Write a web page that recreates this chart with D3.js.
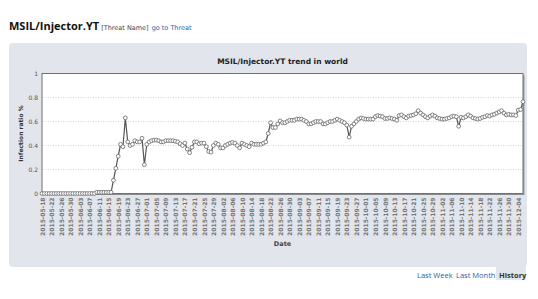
<!DOCTYPE html>
<html>
<head>
<meta charset="utf-8">
<script src="https://cdn.jsdelivr.net/npm/d3@7"></script>
<style>
  body { margin: 0; background: #fff; }
  svg { display: block; }
</style>
</head>
<body>
<div id="chart"></div>
<script>
// threat trend data, one value per day (infection ratio %)
var threatName = "MSIL/Injector.YT";
var chartTitle = "MSIL/Injector.YT trend in world";
var startDate = "2015-05-18";
var endDate = "2015-12-06";
var ratio = [
  0, 0, 0, 0, 0, 0, 0, 0, 0, 0, 0, 0, 0, 0, 0, 0, 0, 0, 0, 0, 0, 0, 0,
  0.01, 0.01, 0.01, 0.01, 0.01, 0.01, 0.01,
  0.11, 0.21, 0.31, 0.41, 0.39, 0.63, 0.43, 0.40, 0.41, 0.44,
  0.43, 0.43, 0.46, 0.24, 0.41, 0.43, 0.44, 0.445, 0.445, 0.44,
  0.43, 0.43, 0.44, 0.44, 0.44, 0.44, 0.435, 0.43, 0.415, 0.40,
  0.42, 0.37, 0.34, 0.385, 0.43, 0.43, 0.415, 0.42, 0.42, 0.39,
  0.35, 0.345, 0.40, 0.42, 0.41, 0.38, 0.38, 0.40, 0.41, 0.42,
  0.425, 0.42, 0.40, 0.38, 0.42, 0.41, 0.40, 0.39, 0.42, 0.41,
  0.41, 0.41, 0.41, 0.42, 0.43, 0.50, 0.59, 0.55, 0.55, 0.58,
  0.605, 0.59, 0.59, 0.60, 0.61, 0.61, 0.61, 0.62, 0.62, 0.62,
  0.61, 0.60, 0.58, 0.58, 0.59, 0.60, 0.60, 0.60, 0.58, 0.58,
  0.59, 0.60, 0.60, 0.61, 0.62, 0.61, 0.60, 0.59, 0.57, 0.47,
  0.56, 0.58, 0.60, 0.62, 0.63, 0.625, 0.62, 0.62, 0.62, 0.62,
  0.64, 0.65, 0.645, 0.64, 0.625, 0.625, 0.63, 0.625, 0.62, 0.61,
  0.65, 0.655, 0.64, 0.63, 0.645, 0.65, 0.655, 0.665, 0.69, 0.67,
  0.655, 0.64, 0.63, 0.645, 0.655, 0.645, 0.63, 0.625, 0.62, 0.62,
  0.625, 0.63, 0.64, 0.645, 0.64, 0.56, 0.635, 0.63, 0.64, 0.655,
  0.645, 0.63, 0.625, 0.62, 0.625, 0.635, 0.64, 0.65, 0.645, 0.655,
  0.66, 0.67, 0.68, 0.69, 0.67, 0.655, 0.66, 0.655, 0.655, 0.65,
  0.695, 0.70, 0.765
];
var yTicks = [0, 0.2, 0.4, 0.6, 0.8, 1];
var rangeButtons = ["Last Week", "Last Month", "History"];

var width = 538, height = 299;
var margin = {top: 73.5, right: 15, bottom: 105.5, left: 42};

var parse = d3.timeParse("%Y-%m-%d");
var fmt = d3.timeFormat("%Y-%m-%d");
var days = d3.timeDay.range(parse(startDate), d3.timeDay.offset(parse(endDate), 1));
var data = days.map(function(d, i) { return {date: d, value: ratio[i]}; });

var svg = d3.select("#chart").append("svg")
  .attr("width", width)
  .attr("height", height);

// page header
var header = svg.append("text")
  .attr("x", 9)
  .attr("y", 30)
  .attr("font-family", "DejaVu Sans, Verdana, sans-serif");
header.append("tspan")
  .attr("font-family", "Open Sans, sans-serif")
  .attr("font-size", 11)
  .attr("font-weight", "bold")
  .attr("fill", "#111")
  .text(threatName);
header.append("tspan")
  .attr("dx", 2)
  .attr("font-size", 6.5)
  .attr("fill", "#444")
  .text("[Threat Name]");
header.append("tspan")
  .attr("dx", 3)
  .attr("font-size", 6.5)
  .attr("fill", "#1f5fa8")
  .text("go to Threat");

// grey chart panel
svg.append("rect")
  .attr("x", 9).attr("y", 43)
  .attr("width", 518).attr("height", 224)
  .attr("rx", 4)
  .attr("fill", "#e2e6ec");

var x = d3.scaleTime()
  .domain([days[0], days[days.length - 1]])
  .range([margin.left, width - margin.right]);

var y = d3.scaleLinear()
  .domain([0, 1])
  .range([height - margin.bottom, margin.top]);

// plot frame with a small shadow
svg.append("rect")
  .attr("x", margin.left + 1.5).attr("y", margin.top + 1.5)
  .attr("width", x.range()[1] - margin.left).attr("height", y(0) - y(1))
  .attr("fill", "#9aa0a8");
svg.append("rect")
  .attr("x", margin.left).attr("y", margin.top)
  .attr("width", x.range()[1] - margin.left).attr("height", y(0) - y(1))
  .attr("fill", "#fff")
  .attr("stroke", "#6e6e6e")
  .attr("stroke-width", 1);

// dotted grid lines
svg.append("g")
  .selectAll("line")
  .data(yTicks.filter(function(t) { return t > 0 && t < 1; }))
  .enter().append("line")
    .attr("x1", margin.left + 1).attr("x2", x.range()[1] - 1)
    .attr("y1", function(d) { return y(d); })
    .attr("y2", function(d) { return y(d); })
    .attr("stroke", "#d4d4d4")
    .attr("stroke-dasharray", "1,1.5");

svg.append("text")
  .attr("x", (margin.left + x.range()[1]) / 2)
  .attr("y", 64)
  .attr("text-anchor", "middle")
  .attr("font-family", "DejaVu Sans, Verdana, sans-serif")
  .attr("font-size", 7.5)
  .attr("font-weight", "bold")
  .attr("fill", "#222")
  .text(chartTitle);

// y axis
var yAxis = svg.append("g")
  .attr("transform", "translate(" + margin.left + ",0)")
  .call(d3.axisLeft(y).tickValues(yTicks).tickSize(0).tickPadding(4)
    .tickFormat(function(d) { return d; }));
yAxis.select(".domain").remove();
yAxis.selectAll("text")
  .attr("font-family", "DejaVu Sans, Verdana, sans-serif")
  .attr("font-size", 6)
  .attr("fill", "#555");

svg.append("text")
  .attr("transform", "translate(21," + ((y(0) + y(1)) / 2) + ") rotate(-90)")
  .attr("text-anchor", "middle")
  .attr("dy", "0.35em")
  .attr("font-family", "DejaVu Sans, Verdana, sans-serif")
  .attr("font-size", 6)
  .attr("font-weight", "bold")
  .attr("fill", "#333")
  .text("Infection ratio %");

// x axis, a label every fourth day
var xAxis = svg.append("g")
  .attr("transform", "translate(0," + y(0) + ")")
  .call(d3.axisBottom(x)
    .tickValues(d3.timeDay.range(days[0], days[days.length - 1], 4))
    .tickSize(0)
    .tickFormat(fmt));
xAxis.select(".domain")
  .attr("stroke", "#777")
  .attr("stroke-width", 1.2);
xAxis.selectAll("text")
  .attr("transform", "rotate(-90)")
  .attr("text-anchor", "end")
  .attr("x", -4)
  .attr("y", 0)
  .attr("dy", "0.35em")
  .attr("font-family", "DejaVu Sans, Verdana, sans-serif")
  .attr("font-size", 6)
  .attr("font-weight", "bold")
  .attr("fill", "#777");

svg.append("text")
  .attr("x", (margin.left + x.range()[1]) / 2)
  .attr("y", 246)
  .attr("text-anchor", "middle")
  .attr("font-family", "DejaVu Sans, Verdana, sans-serif")
  .attr("font-size", 6.5)
  .attr("font-weight", "bold")
  .attr("fill", "#444")
  .text("Date");

// the series
var line = d3.line()
  .x(function(d) { return x(d.date); })
  .y(function(d) { return y(d.value); });

svg.append("path")
  .datum(data)
  .attr("fill", "none")
  .attr("stroke", "#555")
  .attr("stroke-width", 1.2)
  .attr("d", line);

svg.append("g")
  .selectAll("circle")
  .data(data)
  .enter().append("circle")
    .attr("cx", function(d) { return x(d.date); })
    .attr("cy", function(d) { return y(d.value); })
    .attr("r", 1.9)
    .attr("fill", "#fff")
    .attr("stroke", "#666")
    .attr("stroke-width", 0.8);

// range buttons under the panel
svg.append("rect")
  .attr("x", 496).attr("y", 266)
  .attr("width", 30).attr("height", 14)
  .attr("fill", "#e2e6ec");

var btnX = [417, 456, 499];
svg.append("g")
  .selectAll("text")
  .data(rangeButtons)
  .enter().append("text")
    .attr("x", function(d, i) { return btnX[i]; })
    .attr("y", 278)
    .attr("font-family", "Open Sans, sans-serif")
    .attr("font-size", 7.5)
    .attr("font-weight", function(d, i) { return i === 2 ? "bold" : "normal"; })
    .attr("fill", function(d, i) { return i === 2 ? "#333" : "#2a62a8"; })
    .text(function(d) { return d; });
</script>
</body>
</html>
